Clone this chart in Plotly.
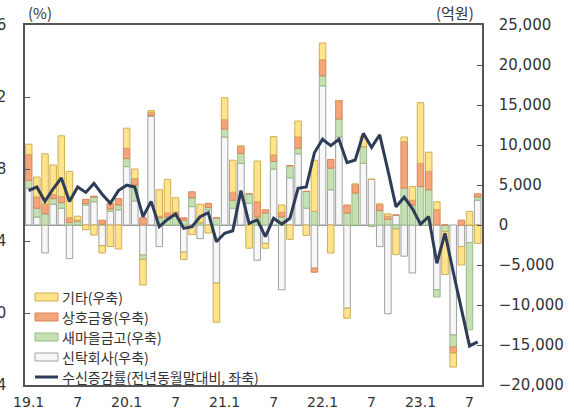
import plotly.graph_objects as go

# ---- data (억원, %), 2019.1 ~ 2023.8 monthly ----
months = [f"{y}.{m}" for y in range(19, 24) for m in range(1, 13)][:56]
tick_idx = [0, 6, 12, 18, 24, 30, 36, 42, 48, 54]
tick_text = ["19.1", "7", "20.1", "7", "21.1", "7", "22.1", "7", "23.1", "7"]

gita = [1.3, 2.5, 6.3, 3.7, 7.6, 5.8, 0.5, -0.6, -1.25, -0.9, -2.7, -3.0,
        2.5, 1.2, -3.2, 0.2, 3.3, 4.2, 1.8, -0.9, -1.2, 2.3, -1.0, -4.9,
        2.75, 4.0, 0.0, -2.9, 5.1, -0.6, 2.3, 0.9, -1.8, 2.0, -1.3, 6.4,
        2.1, -3.5, 0.0, -1.25, 0.0, 1.3, 0.0, 0.0, 0.3, -3.2, 0.6, 1.7,
        7.6, 2.4, 1.0, -5.4, -1.75, -2.3, 1.7, -2.3]
sangho = [3.2, 1.4, 1.2, 0.5, 0.75, 0.6, 0.1, 0.5, 0.1, 0.5, 0.7, 0.8,
          1.3, 0.8, 0.9, 0.4, 0.2, 0.5, 0.5, 0.3, 0.75, 0.0, 0.5, 0.0,
          1.15, 1.0, 0.9, 0.0, 1.9, 0.4, 0.8, 0.6, 0.0, 1.4, 0.0, -0.5,
          2.0, 1.1, 2.3, 1.0, 1.1, 0.0, 0.0, 0.8, 0.4, 0.0, 5.8, 0.6,
          2.9, 2.3, 1.9, 0.0, -0.75, 0.6, 0.0, 0.4]
saemaeul = [1.0, 1.1, 1.4, 0.7, 0.7, 0.3, 0.5, 0.2, 0.6, 0.1, 0.3, 0.6,
            1.0, 2.0, -0.55, 0.1, 0.9, 1.0, 1.1, 0.6, 1.1, 0.3, 0.3, 0.9,
            1.0, 1.0, 1.25, 1.2, 1.0, 1.5, 0.95, 1.0, 1.5, 0.7, 2.1, 1.7,
            1.25, 2.7, 2.25, 1.5, 4.0, 2.1, -0.2, 1.8, 0.7, -0.5, 4.6, 2.5,
            4.8, 4.4, -0.9, -0.8, -1.5, 0.0, -10.9, 0.4]
sintak = [4.6, 1.0, -3.5, 2.6, 2.1, -4.2, 0.0, 2.5, 2.9, -2.6, 1.7, 1.9,
          7.3, 3.0, -3.75, 13.6, -2.7, 0.0, 0.0, -3.4, 2.3, -1.7, 1.9, -7.25,
          11.0, 2.1, 7.7, 2.7, -4.4, -2.3, 7.0, -8.1, 5.9, 8.9, 2.1, -5.4,
          17.4, 4.4, 11.0, -10.4, 0.0, 7.7, 5.7, -2.7, -11.1, 1.25, -3.9, -6.0,
          0.0, 0.0, -8.1, 0.0, -13.75, -2.7, -2.2, 3.1]
growth = [6.8, 7.0, 6.2, 6.9, 7.5, 6.2, 7.0, 6.7, 7.2, 6.6, 6.1, 6.8,
          7.1, 7.0, 5.35, 6.2, 4.8, 5.2, 5.5, 4.7, 4.8, 5.35, 5.57, 3.96,
          4.43, 4.57, 6.8, 4.98, 5.17, 4.24, 5.26, 4.94, 5.26, 6.93, 7.0, 8.9,
          9.65, 9.3, 9.65, 8.35, 8.5, 9.98, 9.2, 9.9, 7.94, 5.9, 6.43, 5.8,
          4.94, 5.35, 2.76, 4.43, 2.3, 0.3, -1.83, -1.6]

x = list(range(len(months)))
k = lambda arr: [v * 1000 for v in arr]

series = [
    ("신탁회사(우축)", sintak, "#F7F7F7", "#A0A0A0"),
    ("새마을금고(우축)", saemaeul, "#C6E0B4", "#98BC86"),
    ("상호금융(우축)", sangho, "#F4A67A", "#D4875A"),
    ("기타(우축)", gita, "#FFE48C", "#CFAE55"),
]

fig = go.Figure()
for name, vals, fill, edge in series:
    fig.add_trace(go.Bar(x=x, y=k(vals), name=name, yaxis="y",
                         marker=dict(color=fill, line=dict(color=edge, width=1)),
                         showlegend=False))
fig.add_trace(go.Scatter(x=x, y=growth, name="수신증감률(전년동월말대비, 좌축)",
                         yaxis="y2", mode="lines",
                         line=dict(color="#2E3C58", width=3), showlegend=False))

axis_font = dict(family="DejaVu Sans", size=15, color="#333333")
fig.update_layout(
    width=574, height=409,
    margin=dict(l=25, r=92, t=25, b=24, autoexpand=False),
    paper_bgcolor="white", plot_bgcolor="white",
    barmode="relative", bargap=0.2,
    xaxis=dict(range=[-0.45, 55.53], tickvals=tick_idx, ticktext=tick_text,
               showline=True, linecolor="#555555", linewidth=1.5, mirror=True,
               ticks="", showgrid=False, zeroline=False, automargin=False,
               tickfont=dict(family="DejaVu Sans", size=14, color="#333333"),
               ticklabelstandoff=3),
    yaxis=dict(side="right", range=[-20000, 25000], dtick=5000, tickformat=",",
               showline=True, linecolor="#555555", linewidth=1.5,
               ticks="inside", ticklen=5, tickcolor="#555555", automargin=False,
               showgrid=False, zeroline=True, zerolinecolor="#999999", zerolinewidth=1,
               tickfont=axis_font, ticklabelstandoff=12),
    yaxis2=dict(side="left", overlaying="y", range=[-4, 16], dtick=4,
                showline=True, linecolor="#555555", linewidth=1.5,
                ticks="inside", ticklen=5, tickcolor="#555555", automargin=False,
                showgrid=False, zeroline=False,
                tickfont=axis_font, ticklabelstandoff=14),
)

# axis unit labels
fig.add_annotation(text="(%)", xref="paper", yref="paper", x=(40 - 25) / 457, y=1,
                   yanchor="bottom", xanchor="center", showarrow=False,
                   font=dict(family="Noto Sans CJK KR", size=15, color="#333333"))
fig.add_annotation(text="(억원)", xref="paper", yref="paper", x=(455 - 25) / 457, y=1,
                   yanchor="bottom", xanchor="center", showarrow=False,
                   font=dict(family="Noto Sans CJK KR", size=15, color="#333333"))

# manual legend
legend_items = [
    ("기타(우축)", "#FFE48C", "#CFAE55", "bar"),
    ("상호금융(우축)", "#F4A67A", "#D4875A", "bar"),
    ("새마을금고(우축)", "#C6E0B4", "#98BC86", "bar"),
    ("신탁회사(우축)", "#F7F7F7", "#A0A0A0", "bar"),
    ("수신증감률(전년동월말대비, 좌축)", "#2E3C58", "#2E3C58", "line"),
]
px2x = lambda p: (p - 25) / 457
px2y = lambda p: (385 - p) / 360
for i, (txt, fill, edge, kind) in enumerate(legend_items):
    yc = 297 + i * 20
    if kind == "bar":
        fig.add_shape(type="rect", xref="paper", yref="paper",
                      x0=px2x(35), x1=px2x(58), y0=px2y(yc + 4), y1=px2y(yc - 4),
                      fillcolor=fill, line=dict(color=edge, width=1))
    else:
        fig.add_shape(type="line", xref="paper", yref="paper",
                      x0=px2x(35), x1=px2x(58), y0=px2y(yc), y1=px2y(yc),
                      line=dict(color=fill, width=3))
    fig.add_annotation(text=txt, xref="paper", yref="paper", x=px2x(60), y=px2y(yc),
                       xanchor="left", yanchor="middle", showarrow=False,
                       font=dict(family="Noto Sans CJK KR", size=14, color="#333333"))

fig.write_html("out.html", config={"displayModeBar": False},
               post_script="document.body.style.margin='0';")
